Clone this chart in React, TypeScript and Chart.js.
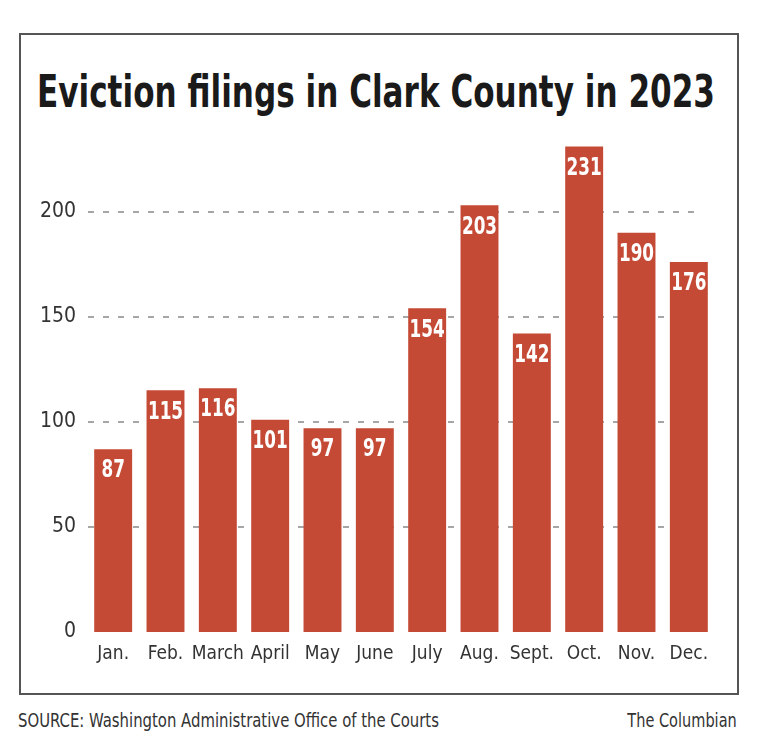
import React, { useEffect, useRef } from "react";
import { Chart, registerables } from "chart.js";

Chart.register(...registerables);

const months = ["Jan.", "Feb.", "March", "April", "May", "June", "July", "Aug.", "Sept.", "Oct.", "Nov.", "Dec."];
const filings = [87, 115, 116, 101, 97, 97, 154, 203, 142, 231, 190, 176];
const yTicks = [0, 50, 100, 150, 200];

const titleText = "Eviction filings in Clark County in 2023";
const sourceText = "SOURCE: Washington Administrative Office of the Courts";
const creditText = "The Columbian";

const NARROW = '"Liberation Sans Narrow", "DejaVu Sans Condensed", "Roboto Condensed", Roboto, sans-serif';
const BAR_COLOR = "#c54a35";

const dashedGrid = {
  id: "dashedGrid",
  beforeDatasetsDraw(chart: any) {
    const ctx = chart.ctx;
    const y = chart.scales.y;
    const area = chart.chartArea;
    ctx.save();
    ctx.strokeStyle = "#a6a6a6";
    ctx.lineWidth = 2;
    ctx.setLineDash([6, 9]);
    yTicks.forEach((v) => {
      if (v === 0) return;
      const py = Math.round(y.getPixelForValue(v));
      ctx.beginPath();
      ctx.moveTo(area.left + 1, py);
      ctx.lineTo(area.right - 12, py);
      ctx.stroke();
    });
    ctx.restore();
  },
};

const valueLabels = {
  id: "valueLabels",
  afterDatasetsDraw(chart: any) {
    const ctx = chart.ctx;
    const meta = chart.getDatasetMeta(0);
    ctx.save();
    ctx.fillStyle = "#ffffff";
    ctx.font = `bold 24px ${NARROW}`;
    ctx.textAlign = "center";
    ctx.textBaseline = "middle";
    meta.data.forEach((bar: any, i: number) => {
      ctx.save();
      ctx.translate(bar.x, bar.y + 22);
      ctx.scale(0.78, 1);
      ctx.fillText(String(chart.data.datasets[0].data[i]), 0, 0);
      ctx.restore();
    });
    ctx.restore();
  },
};

function EvictionChart() {
  const ref = useRef<HTMLCanvasElement | null>(null);
  useEffect(() => {
    if (!ref.current) return;
    const chart = new Chart(ref.current, {
      type: "bar",
      data: {
        labels: months,
        datasets: [
          {
            data: filings,
            backgroundColor: BAR_COLOR,
            categoryPercentage: 1,
            barPercentage: 0.725,
          },
        ],
      },
      options: {
        animation: false,
        responsive: false,
        maintainAspectRatio: false,
        layout: { padding: { top: 9, right: 21, left: 0, bottom: 0 } },
        plugins: { legend: { display: false }, tooltip: { enabled: false } },
        scales: {
          x: {
            grid: { display: false, drawTicks: false },
            border: { display: false },
            ticks: {
              color: "#333",
              font: { family: NARROW, size: 19 },
              padding: 11,
              maxRotation: 0,
              autoSkip: false,
            },
            afterFit: (s: any) => {
              s.height = 48;
            },
          },
          y: {
            min: 0,
            max: 240,
            afterBuildTicks: (s: any) => {
              s.ticks = yTicks.map((v) => ({ value: v }));
            },
            grid: { display: false, drawTicks: false },
            border: { display: false },
            ticks: {
              color: "#333",
              font: { family: NARROW, size: 21 },
              padding: 11,
            },
            afterFit: (s: any) => {
              s.width = 67;
            },
          },
        },
      },
      plugins: [dashedGrid, valueLabels],
    });
    return () => chart.destroy();
  }, []);
  return <canvas ref={ref} width={716} height={576} style={{ position: "absolute", left: 20, top: 104, width: 716, height: 576 }} />;
}

export default function App() {
  return (
    <div style={{ position: "absolute", left: 0, top: 0, width: 768, height: 752, background: "#fff", overflow: "hidden" }}>
      <div
        style={{
          position: "absolute",
          left: 19,
          top: 33,
          width: 716,
          height: 658,
          border: "2px solid #555",
        }}
      />
      <div
        style={{
          position: "absolute",
          left: 375.5,
          top: 67,
          lineHeight: "50px",
          height: 50,
          fontFamily: NARROW,
          fontWeight: "bold",
          fontSize: 45,
          color: "#1a1a1a",
          whiteSpace: "nowrap",
          transform: "translateX(-50%) scaleX(0.768)",
          transformOrigin: "center",
        }}
      >
        {titleText}
      </div>
      <EvictionChart />
      <div
        style={{
          position: "absolute",
          left: 18,
          top: 708,
          fontFamily: NARROW,
          fontSize: 19,
          lineHeight: "24px",
          color: "#333",
          whiteSpace: "nowrap",
          transform: "scaleX(0.87)",
          transformOrigin: "left center",
        }}
      >
        {sourceText}
      </div>
      <div
        style={{
          position: "absolute",
          right: 31,
          top: 708,
          fontFamily: NARROW,
          fontSize: 19,
          lineHeight: "24px",
          color: "#333",
          whiteSpace: "nowrap",
          transform: "scaleX(0.85)",
          transformOrigin: "right center",
        }}
      >
        {creditText}
      </div>
    </div>
  );
}
